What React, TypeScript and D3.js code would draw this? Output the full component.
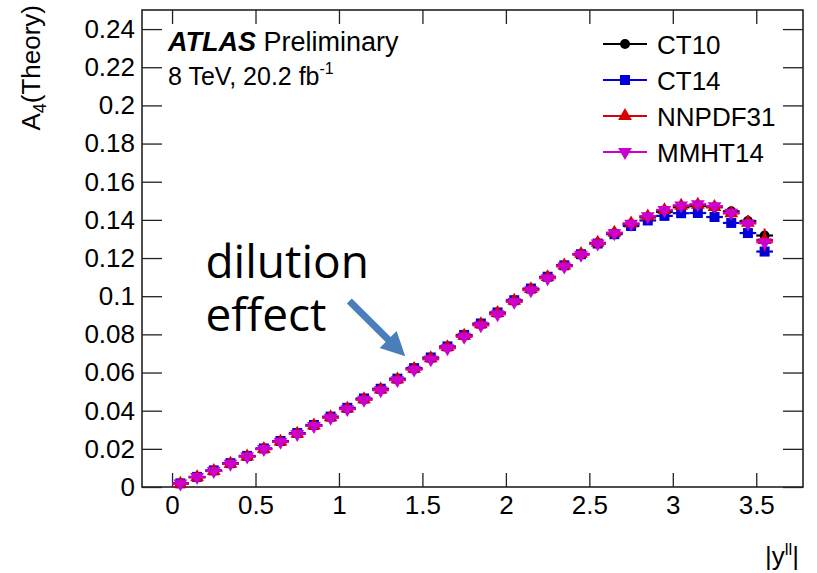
import React, { useRef, useEffect } from 'react';
import * as d3 from 'd3';

// bin centres of |y_ll| (bins of 0.1 from 0 to 3.6)
const binCenters = [0.05, 0.15, 0.25, 0.35, 0.45, 0.55, 0.65, 0.75, 0.85, 0.95,
  1.05, 1.15, 1.25, 1.35, 1.45, 1.55, 1.65, 1.75, 1.85, 1.95,
  2.05, 2.15, 2.25, 2.35, 2.45, 2.55, 2.65, 2.75, 2.85, 2.95,
  3.05, 3.15, 3.25, 3.35, 3.45, 3.55];

const ct10 = [0.0018, 0.0052, 0.0085, 0.0123, 0.0161, 0.0200, 0.0239, 0.0280, 0.0322, 0.0366,
  0.0411, 0.0460, 0.0511, 0.0564, 0.0619, 0.0674, 0.0732, 0.0792, 0.0852, 0.0911,
  0.0975, 0.1036, 0.1099, 0.1160, 0.1220, 0.1278, 0.1330, 0.1378, 0.1413, 0.1442,
  0.1466, 0.1472, 0.1466, 0.1445, 0.1394, 0.1318];

const ct14 = [0.0019, 0.0053, 0.0087, 0.0125, 0.0163, 0.0202, 0.0241, 0.0283, 0.0325, 0.0369,
  0.0415, 0.0464, 0.0515, 0.0568, 0.0623, 0.0679, 0.0737, 0.0797, 0.0857, 0.0915,
  0.0979, 0.1040, 0.1102, 0.1162, 0.1220, 0.1276, 0.1325, 0.1368, 0.1397, 0.1421,
  0.1435, 0.1436, 0.1415, 0.1384, 0.1331, 0.1234];

const nnpdf31 = [0.0017, 0.0051, 0.0084, 0.0122, 0.0160, 0.0199, 0.0238, 0.0279, 0.0322, 0.0366,
  0.0411, 0.0460, 0.0511, 0.0564, 0.0619, 0.0675, 0.0733, 0.0793, 0.0853, 0.0912,
  0.0976, 0.1037, 0.1100, 0.1161, 0.1222, 0.1280, 0.1333, 0.1381, 0.1418, 0.1451,
  0.1474, 0.1479, 0.1468, 0.1434, 0.1385, 0.1295];

const mmht14 = [0.0018, 0.0052, 0.0084, 0.0122, 0.0160, 0.0199, 0.0237, 0.0278, 0.0320, 0.0363,
  0.0408, 0.0457, 0.0507, 0.0560, 0.0615, 0.0669, 0.0727, 0.0787, 0.0847, 0.0905,
  0.0970, 0.1031, 0.1094, 0.1156, 0.1217, 0.1276, 0.1330, 0.1380, 0.1419, 0.1452,
  0.1476, 0.1482, 0.1472, 0.1437, 0.1381, 0.1283];

const nnpdfErr = [0, 0, 0, 0, 0, 0, 0, 0, 0, 0,
  0, 0, 0, 0, 0, 0, 0, 0, 0, 0,
  0, 0, 0, 0, 0, 0, 0, 0, 0, 0,
  0, 0.001, 0.0015, 0.0025, 0.004, 0.006];

const seriesNames = ['CT10', 'CT14', 'NNPDF31', 'MMHT14'];
const seriesColors = ['#000000', '#0000d8', '#d80000', '#cc00cc'];
const seriesValues = [ct10, ct14, nnpdf31, mmht14];

const xMajorTicks = [0, 0.5, 1, 1.5, 2, 2.5, 3, 3.5];
const yMajorTicks = [0, 0.02, 0.04, 0.06, 0.08, 0.1, 0.12, 0.14, 0.16, 0.18, 0.2, 0.22, 0.24];

const W = 817;
const H = 573;
const font = '"Liberation Sans", Arial, Helvetica, sans-serif';

export default function App() {
  const ref = useRef<SVGSVGElement>(null);

  useEffect(() => {
    const svg = d3.select(ref.current);
    svg.selectAll('*').remove();

    const left = 142, right = 803, top = 10, bottom = 487;
    const x = d3.scaleLinear().domain([-0.18, 3.78]).range([left, right]);
    const y = d3.scaleLinear().domain([0, 0.25]).range([bottom, top]);

    const xMinor = d3.range(-1, 38).map(i => i / 10).filter(v => x(v) > left && x(v) < right);
    const yMinor = d3.range(0, 51).map(i => i * 0.005);

    const axisColor = '#222';

    const axes = svg.append('g').attr('font-family', font);

    // bottom axis
    const gb = axes.append('g').attr('transform', `translate(0,${bottom})`);
    gb.call(d3.axisBottom(x).tickValues(xMinor).tickSizeInner(-7).tickSizeOuter(0).tickFormat(() => '') as any);
    gb.call(d3.axisBottom(x).tickValues(xMajorTicks).tickSizeInner(-14).tickSizeOuter(0).tickPadding(9)
      .tickFormat(d => d3.format('~g')(+d)) as any);
    // top axis (mirrored ticks)
    const gt = axes.append('g').attr('transform', `translate(0,${top})`);
    gt.call(d3.axisTop(x).tickValues(xMinor).tickSizeInner(-7).tickSizeOuter(0).tickFormat(() => '') as any);
    gt.call(d3.axisTop(x).tickValues(xMajorTicks).tickSizeInner(-14).tickSizeOuter(0).tickFormat(() => '') as any);
    // left axis
    const gl = axes.append('g').attr('transform', `translate(${left},0)`);
    gl.call(d3.axisLeft(y).tickValues(yMinor).tickSizeInner(-10).tickSizeOuter(0).tickFormat(() => '') as any);
    gl.call(d3.axisLeft(y).tickValues(yMajorTicks).tickSizeInner(-20).tickSizeOuter(0).tickPadding(7)
      .tickFormat(d => d3.format('.2~f')(+d)) as any);
    // right axis
    const gr = axes.append('g').attr('transform', `translate(${right},0)`);
    gr.call(d3.axisRight(y).tickValues(yMinor).tickSizeInner(-10).tickSizeOuter(0).tickFormat(() => '') as any);
    gr.call(d3.axisRight(y).tickValues(yMajorTicks).tickSizeInner(-20).tickSizeOuter(0).tickFormat(() => '') as any);

    axes.selectAll('.domain').remove();
    axes.selectAll('line').attr('stroke', axisColor).attr('stroke-width', 1.3);
    axes.selectAll('text').attr('font-size', 26).attr('fill', '#000').attr('font-family', font);

    axes.append('rect')
      .attr('x', left).attr('y', top)
      .attr('width', right - left).attr('height', bottom - top)
      .attr('fill', 'none').attr('stroke', axisColor).attr('stroke-width', 1.6);

    // axis titles
    const yTitle = svg.append('text')
      .attr('transform', 'translate(40,5) rotate(-90)')
      .attr('text-anchor', 'end')
      .attr('font-family', font).attr('font-size', 26);
    yTitle.append('tspan').text('A');
    yTitle.append('tspan').attr('font-size', 18).attr('dy', 6).text('4');
    yTitle.append('tspan').attr('dy', -6).text('(Theory)');

    const xTitle = svg.append('text')
      .attr('x', 799).attr('y', 565)
      .attr('text-anchor', 'end')
      .attr('font-family', font).attr('font-size', 26);
    xTitle.append('tspan').text('|y');
    xTitle.append('tspan').attr('font-size', 17).attr('dy', -10).text('ll');
    xTitle.append('tspan').attr('dy', 10).text('|');

    // markers
    const symbols = [
      d3.symbol().type(d3.symbolCircle).size(78),
      d3.symbol().type(d3.symbolSquare).size(100),
      d3.symbol().type(d3.symbolTriangle).size(82),
      d3.symbol().type(d3.symbolTriangle).size(82),
    ];
    const rotations = [0, 0, 0, 180];

    const halfBin = 0.05;
    seriesValues.forEach((vals, si) => {
      const color = seriesColors[si];
      const g = svg.append('g');
      g.selectAll('line.h')
        .data(vals)
        .enter()
        .append('line')
        .attr('x1', (d, i) => x(binCenters[i] - halfBin))
        .attr('x2', (d, i) => x(binCenters[i] + halfBin))
        .attr('y1', d => y(d)).attr('y2', d => y(d))
        .attr('stroke', color).attr('stroke-width', 2.2);
      if (si === 2) {
        g.selectAll('line.v')
          .data(vals)
          .enter()
          .append('line')
          .attr('x1', (d, i) => x(binCenters[i]))
          .attr('x2', (d, i) => x(binCenters[i]))
          .attr('y1', (d, i) => y(d - nnpdfErr[i]))
          .attr('y2', (d, i) => y(d + nnpdfErr[i]))
          .attr('stroke', color).attr('stroke-width', 2);
      }
      g.selectAll('path')
        .data(vals)
        .enter()
        .append('path')
        .attr('d', symbols[si] as any)
        .attr('transform', (d, i) => `translate(${x(binCenters[i])},${y(d)}) rotate(${rotations[si]})`)
        .attr('fill', color);
    });

    // ATLAS label
    const atlas = svg.append('text')
      .attr('x', 168).attr('y', 51)
      .attr('font-family', font).attr('font-size', 27);
    atlas.append('tspan').attr('font-weight', 'bold').attr('font-style', 'italic').text('ATLAS');
    atlas.append('tspan').text(' Preliminary');

    const lumi = svg.append('text')
      .attr('x', 168).attr('y', 85)
      .attr('font-family', font).attr('font-size', 25);
    lumi.append('tspan').text('8 TeV, 20.2 fb');
    lumi.append('tspan').attr('font-size', 16).attr('dy', -11).text('-1');

    // legend
    const legend = svg.append('g').attr('font-family', font);
    seriesNames.forEach((name, i) => {
      const ly = 44 + i * 36;
      const row = legend.append('g').attr('transform', `translate(0,${ly})`);
      row.append('line').attr('x1', 603).attr('x2', 647).attr('y1', 0).attr('y2', 0)
        .attr('stroke', seriesColors[i]).attr('stroke-width', 2);
      row.append('path')
        .attr('d', symbols[i]() as string)
        .attr('transform', `translate(625,0) rotate(${rotations[i]})`)
        .attr('fill', seriesColors[i]);
      row.append('text').attr('x', 657).attr('y', 9.5)
        .attr('font-size', 26).text(name);
    });

    // annotation
    const note = svg.append('g')
      .attr('font-family', '"Open Sans", "DejaVu Sans", sans-serif')
      .attr('font-size', 46).attr('fill', '#000');
    note.append('text').attr('x', x(0.2)).attr('y', y(0.1095)).text('dilution');
    note.append('text').attr('x', x(0.2)).attr('y', y(0.0815)).text('effect');

    const sx = x(1.062), sy = y(0.0975);
    const tx = x(1.397), ty = y(0.0685);
    const len = Math.hypot(tx - sx, ty - sy);
    const ux = (tx - sx) / len, uy = (ty - sy) / len;
    const nx = -uy, ny = ux;
    const w = 3.5, hl = 24, hw = 12;
    const bx = tx - ux * hl, by = ty - uy * hl;
    const pts: [number, number][] = [
      [sx + nx * w, sy + ny * w],
      [bx + nx * w, by + ny * w],
      [bx + nx * hw, by + ny * hw],
      [tx, ty],
      [bx - nx * hw, by - ny * hw],
      [bx - nx * w, by - ny * w],
      [sx - nx * w, sy - ny * w],
    ];
    svg.append('path')
      .attr('d', d3.line()(pts) + 'Z')
      .attr('fill', '#4a7ebb');
  }, []);

  return (
    <div>
      <svg
        ref={ref}
        width={W}
        height={H}
        style={{ position: 'absolute', left: 0, top: 0, background: '#fff' }}
      />
    </div>
  );
}
